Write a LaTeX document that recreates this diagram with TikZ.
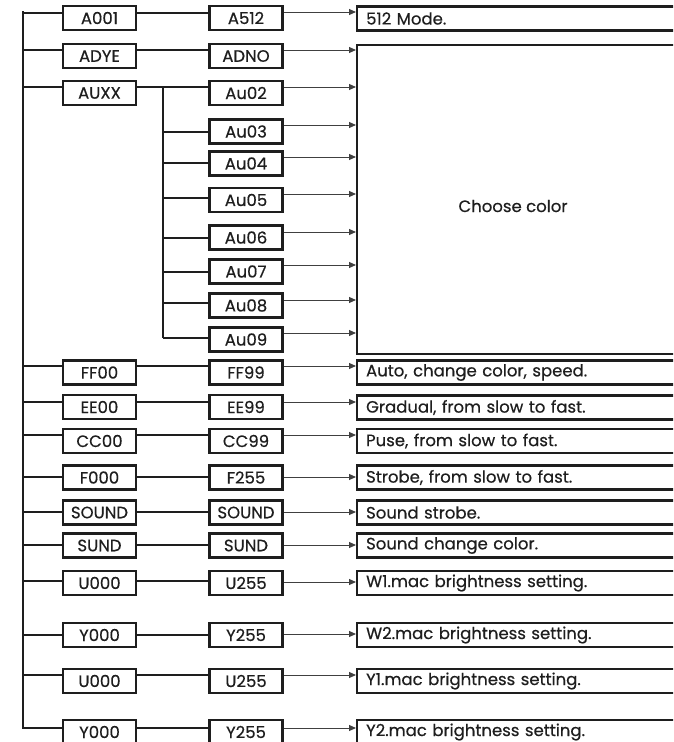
\documentclass[tikz,border=0pt]{standalone}
\usepackage{fontspec}
\setmainfont{Poppins}[FakeBold=0.5]
\usetikzlibrary{arrows.meta}
\definecolor{ink}{HTML}{1E1E1E}
\tikzset{
  txt/.style={text=ink, font=\fontsize{16.5}{18}\selectfont},
  box/.style={txt, draw=ink, line width=2.2pt, minimum width=73pt, minimum height=24pt, inner sep=0pt},
  rbox/.style={txt, draw=ink, line width=2.2pt, minimum height=24pt, text width=330pt, align=left, inner xsep=9pt, inner ysep=0pt, anchor=west},
  wire/.style={draw=ink, line width=2pt},
  bus/.style={draw=ink, line width=2.8pt},
  arr/.style={draw=ink!85, line width=1pt, -{Triangle[length=7pt,width=6pt]}},
}
\begin{document}
\begin{tikzpicture}[x=1pt,y=-1pt]
\useasboundingbox (0,0) rectangle (673,742);
\clip (0,0) rectangle (673,742);
% big box
\node[draw=ink, line width=2.2pt, minimum width=360pt, minimum height=309pt, anchor=north west, inner sep=0pt] (big) at (356,43.5) {};
\node[txt] (cc) at (513,206) {Choose color};
% main rows
\foreach \i/\a/\b/\cy/\ly/\ay in {1/A001/A512/18/12.5/12, 2/ADYE/ADNO/56/50/50, 3/AUXX/Au02/93/87/87,
  11/FF00/FF99/372.5/366/366, 12/EE00/EE99/407/402/402, 13/CC00/CC99/441/435/435,
  14/F000/F255/477.5/477/477, 15/SOUND/SOUND/512.5/512/512, 16/SUND/SUND/545.5/545/545,
  17/U000/U255/583/581/582, 18/Y000/Y255/635/635/634, 19/U000/U255/681/675/675, 20/Y000/Y255/732/728/728}{
  \node[box] (a\i) at (99.5,\cy) {\a};
  \node[box] (b\i) at (246,\cy) {\b};
  \coordinate (k\i) at (23,\ly);
  \coordinate (t\i) at (356,\ay);
  \draw[wire] (k\i) -- (a\i.west |- k\i);
  \draw[wire] (a\i.east |- k\i) -- (b\i.west |- k\i);
}
% right boxes
\foreach \i/\cy/\txt in {1/18.5/{512 Mode.}, 11/372.5/{Auto, change color, speed.}, 12/407.5/{Gradual, from slow to fast.},
  13/441/{Puse, from slow to fast.}, 14/477.5/{Strobe, from slow to fast.}, 15/512.5/{Sound strobe.},
  16/545.5/{Sound change color.}, 17/583/{W1.mac brightness setting.}, 18/635/{W2.mac brightness setting.},
  19/681/{Y1.mac brightness setting.}, 20/732/{Y2.mac brightness setting.}}{
  \node[rbox] (r\i) at (356,\cy) {\txt};
  \draw[arr] (b\i.east |- t\i) -- (r\i.west |- t\i);
}
\draw[arr] (b2.east |- t2) -- (big.west |- t2);
\draw[arr] (b3.east |- t3) -- (big.west |- t3);
% AUX sub rows
\coordinate (s3) at (163,87);
\foreach \i/\b/\cy/\ly/\ay in {4/Au03/131.5/132/125, 5/Au04/163.5/163/157, 6/Au05/200/198/194,
  7/Au06/237.5/238/232, 8/Au07/271.5/272/265, 9/Au08/305.5/303/300, 10/Au09/339.5/338/333}{
  \node[box] (b\i) at (246,\cy) {\b};
  \coordinate (s\i) at (163,\ly);
  \coordinate (t\i) at (356,\ay);
  \draw[wire] (s\i) -- (b\i.west |- s\i);
  \draw[arr] (b\i.east |- t\i) -- (big.west |- t\i);
}
\draw[wire] (s3) -- (s10);
% main bus
\draw[bus, line cap=rect] (k1) -- (k20);
\end{tikzpicture}
\end{document}
